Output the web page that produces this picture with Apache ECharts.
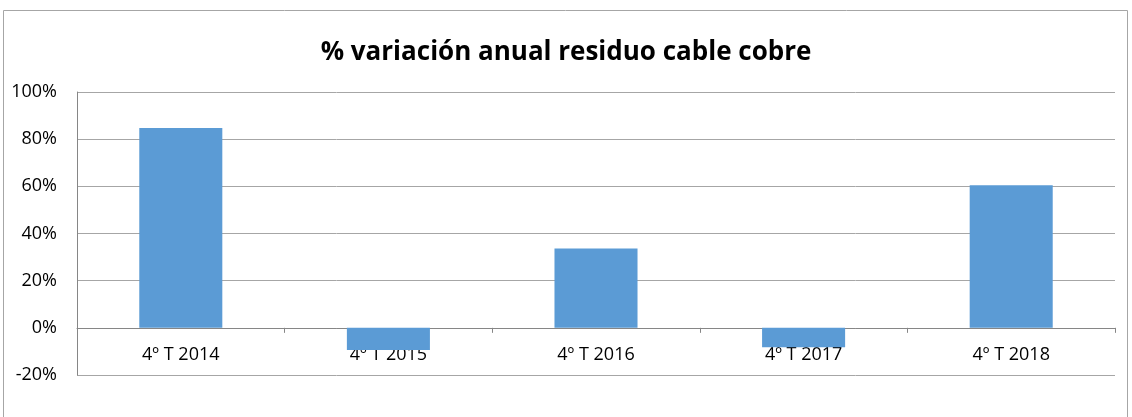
<!DOCTYPE html>
<html>
<head>
<meta charset="utf-8">
<script src="https://cdn.jsdelivr.net/npm/echarts@6/dist/echarts.min.js"></script>
<style>
  html, body { margin: 0; padding: 0; background: #fff; }
  #chart { width: 1132px; height: 417px; }
</style>
</head>
<body>
<div id="chart"></div>
<script>
const categories = ['4º T 2014', '4º T 2015', '4º T 2016', '4º T 2017', '4º T 2018']
const variacion = [84.7, -9.4, 33.6, -8.2, 60.5]
const yTicks = { min: -20, max: 100, step: 20 }

const chart = echarts.init(document.getElementById('chart'))

chart.setOption({
  animation: false,
  textStyle: { fontFamily: 'Open Sans, Liberation Sans, sans-serif' },
  title: {
    text: '% variación anual residuo cable cobre',
    left: 'center',
    top: 35,
    textStyle: { fontSize: 26, fontWeight: 'bold', color: '#000', fontFamily: 'Open Sans' },
  },
  graphic: [{
    type: 'rect',
    shape: { x: 3.5, y: 10.5, width: 1124, height: 420 },
    style: { fill: 'none', stroke: '#a6a6a6', lineWidth: 1 },
    silent: true,
  }],
  grid: { left: 77, right: 17, top: 92, bottom: 42 },
  xAxis: {
    type: 'category',
    data: categories,
    axisLine: { onZero: true, lineStyle: { color: '#868686', width: 1 } },
    axisTick: { show: true, length: 5, lineStyle: { color: '#868686' } },
    axisLabel: { color: '#000', fontSize: 18, margin: -29 },
  },
  yAxis: {
    type: 'value',
    min: yTicks.min,
    max: yTicks.max,
    interval: yTicks.step,
    axisLine: { show: true, lineStyle: { color: '#868686' } },
    axisTick: { show: false },
    axisLabel: { color: '#000', fontSize: 18, margin: 20, formatter: '{value}%' },
    splitLine: { lineStyle: { color: '#a6a6a6', width: 1 } },
  },
  series: [{
    type: 'bar',
    data: variacion,
    barWidth: '40%',
    itemStyle: { color: '#5b9bd5' },
  }],
})
</script>
</body>
</html>
